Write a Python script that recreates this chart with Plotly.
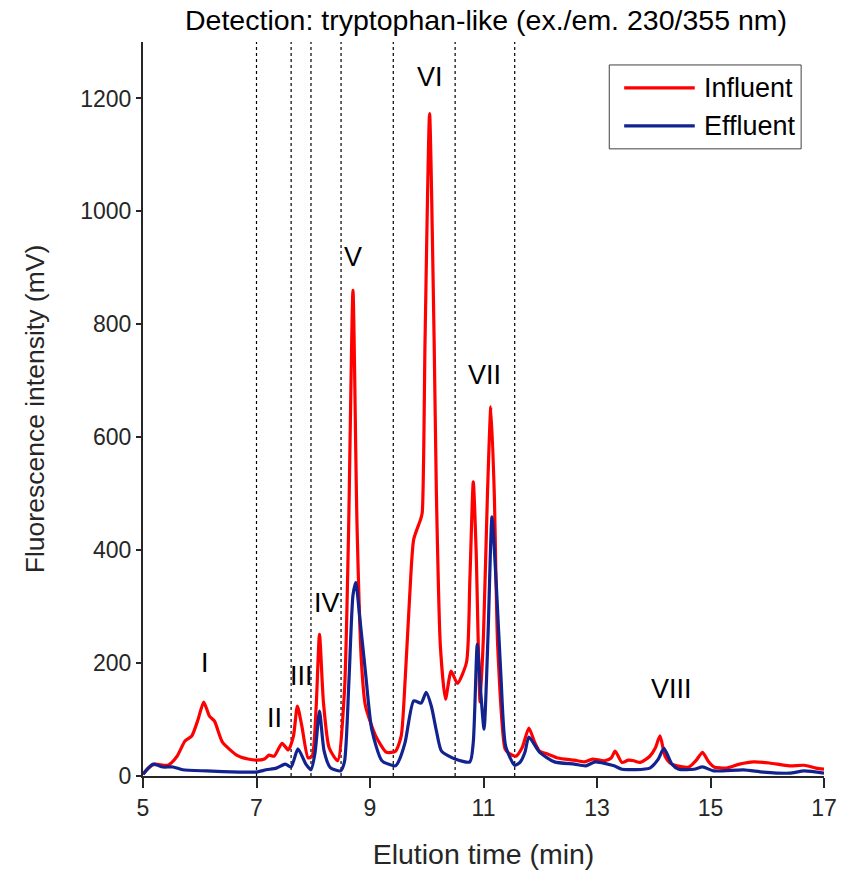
import plotly.graph_objects as go

# Influent (red) chromatogram
inf_t = [5.00, 5.10, 5.21, 5.44, 5.60, 5.74, 5.86, 5.97, 6.07, 6.17, 6.26, 6.40, 6.65, 6.85, 7.00,
         7.14, 7.22, 7.31, 7.45, 7.56, 7.65, 7.72, 7.80, 7.91, 7.98, 8.05, 8.11, 8.18, 8.28, 8.43,
         8.55, 8.62, 8.70, 8.77, 8.85, 8.92, 9.10, 9.29, 9.45, 9.55, 9.62, 9.70, 9.77, 9.89, 9.92,
         9.97, 10.05, 10.13, 10.17, 10.24, 10.33, 10.43, 10.54, 10.70, 10.76, 10.82, 10.87, 10.94,
         11.00, 11.07, 11.13, 11.19, 11.25, 11.38, 11.45, 11.57, 11.68, 11.80, 11.90, 11.99, 12.13,
         12.31, 12.60, 12.78, 12.92, 13.13, 13.25, 13.32, 13.44, 13.55, 13.65, 13.76, 13.93, 14.03,
         14.11, 14.20, 14.30, 14.41, 14.62, 14.75, 14.86, 14.96, 15.06, 15.28, 15.51, 15.76, 16.04,
         16.39, 16.65, 16.86, 17.00]
inf_v = [3, 15, 21, 19, 35, 62, 71, 100, 131, 106, 97, 60, 37, 30, 28,
         30, 37, 35, 58, 46, 70, 124, 88, 32, 35, 120, 251, 130, 50, 27,
         150, 420, 860, 450, 200, 124, 71, 42, 44, 71, 171, 320, 419, 454, 466,
         772, 1173, 772, 500, 230, 136, 186, 164, 201, 348, 521, 400, 131,
         250, 500, 654, 500, 230, 48, 40, 35, 50, 85, 60, 44, 39,
         32, 28, 25, 30, 27, 32, 44, 24, 28, 27, 24, 35, 50,
         71, 35, 22, 18, 16, 28, 42, 26, 16, 14, 21, 25, 23,
         18, 19, 14, 12]

# Effluent (blue) chromatogram
eff_t = [5.00, 5.08, 5.18, 5.35, 5.53, 5.70, 6.12, 6.70, 7.00, 7.17, 7.35, 7.51, 7.61, 7.73,
         7.87, 7.96, 8.03, 8.11, 8.19, 8.30, 8.48, 8.55, 8.63, 8.70, 8.75, 8.82, 8.92, 9.03,
         9.21, 9.45, 9.50, 9.62, 9.77, 9.90, 9.99, 10.08, 10.17, 10.26, 10.50, 10.76, 10.82,
         10.89, 10.95, 11.01, 11.08, 11.15, 11.23, 11.31, 11.39, 11.55, 11.65, 11.73, 11.80,
         11.99, 12.25, 12.60, 12.80, 12.97, 13.30, 13.44, 13.93, 14.08, 14.18, 14.32, 14.44,
         14.71, 14.86, 15.06, 15.58, 15.93, 16.39, 16.65, 17.00]
eff_v = [3, 12, 21, 16, 16, 11, 9, 7, 7, 11, 14, 21, 16, 48,
         21, 11, 40, 115, 45, 15, 9, 25, 171, 320, 343, 280, 184, 83,
         27, 18, 25, 60, 133, 129, 148, 124, 80, 44, 30, 25, 60,
         233, 150, 83, 250, 459, 330, 171, 53, 19, 25, 42, 69,
         42, 25, 21, 18, 25, 18, 12, 14, 30, 49, 21, 12,
         12, 16, 9, 11, 7, 5, 9, 5]

# Fraction boundaries (dotted lines), min
bounds = [7.0, 7.61, 7.96, 8.49, 9.41, 10.5, 11.55]

# Peak labels
peak_names = ["I", "II", "III", "IV", "V", "VI", "VII", "VIII"]
peak_x = [6.09, 7.31, 7.80, 8.24, 8.70, 10.05, 11.01, 14.32]
peak_y = [201, 102, 178, 306, 920, 1238, 710, 154]

x_ticks = [5, 7, 9, 11, 13, 15, 17]
y_ticks = [0, 200, 400, 600, 800, 1000, 1200]

series_names = ["Influent", "Effluent"]
series_colors = ["#FF0000", "#12238F"]

FONT = "Liberation Sans, Arial, sans-serif"
W, H = 849, 877
L, R, T, B = 143, 21, 42, 100
PW, PH = W - L - R, H - T - B


def px_to_paper(px, py):
    return (px - L) / PW, (H - B - py) / PH


fig = go.Figure()
for t, v, name, col in [(inf_t, inf_v, series_names[0], series_colors[0]),
                        (eff_t, eff_v, series_names[1], series_colors[1])]:
    fig.add_trace(go.Scatter(x=t, y=v, mode="lines", name=name, showlegend=False,
                             line=dict(color=col, width=3.2, shape="spline", smoothing=0.6)))

for b in bounds:
    fig.add_shape(type="line", x0=b, x1=b, y0=0, y1=1, xref="x", yref="paper",
                  line=dict(color="black", width=1.2, dash="dot"), layer="below")

for n, px, py in zip(peak_names, peak_x, peak_y):
    fig.add_annotation(x=px, y=py, text=n, showarrow=False,
                       font=dict(family=FONT, size=27, color="black"))

# Manual legend (box, line samples, labels)
bx0, by0 = px_to_paper(612, 149)
bx1, by1 = px_to_paper(805, 65)
fig.add_shape(type="rect", xref="paper", yref="paper", x0=bx0, x1=bx1, y0=by0, y1=by1,
              line=dict(color="#404040", width=1), fillcolor="white", layer="above")
for i, (name, col) in enumerate(zip(series_names, series_colors)):
    yy = 88 + i * 38
    lx0, ly = px_to_paper(627, yy)
    lx1, _ = px_to_paper(698, yy)
    fig.add_shape(type="line", xref="paper", yref="paper", x0=lx0, x1=lx1, y0=ly, y1=ly,
                  line=dict(color=col, width=3.2), layer="above")
    tx, _ = px_to_paper(705, yy)
    fig.add_annotation(xref="paper", yref="paper", x=tx, y=ly, text=name, showarrow=False,
                       xanchor="left", yanchor="middle",
                       font=dict(family=FONT, size=27, color="black"))

fig.update_layout(
    width=W, height=H,
    margin=dict(l=L, r=R, t=T, b=B),
    paper_bgcolor="white", plot_bgcolor="white",
    font=dict(family=FONT, size=22, color="#262626"),
    title=dict(text="Detection: tryptophan-like (ex./em. 230/355 nm)",
               x=486 / W, xanchor="center", y=1 - 20 / H, yanchor="middle",
               font=dict(family=FONT, size=28.5, color="black")),
    showlegend=False,
)
fig.update_xaxes(range=[5, 17], tickvals=x_ticks, ticks="outside", ticklen=10, tickwidth=2,
                 tickcolor="#262626", showline=True, linecolor="#262626", linewidth=2,
                 showgrid=False, zeroline=False, tickfont=dict(size=23),
                 title=dict(text="Elution time (min)", font=dict(family=FONT, size=28.5), standoff=24))
fig.update_yaxes(range=[0, 1300], tickvals=y_ticks, ticks="outside", ticklen=5, tickwidth=2,
                 tickcolor="#262626", showline=True, linecolor="#262626", linewidth=2,
                 showgrid=False, zeroline=False, tickfont=dict(size=23),
                 title=dict(text="Fluorescence intensity (mV)", font=dict(family=FONT, size=26.5),
                            standoff=28))

fig.write_html("out.html")
